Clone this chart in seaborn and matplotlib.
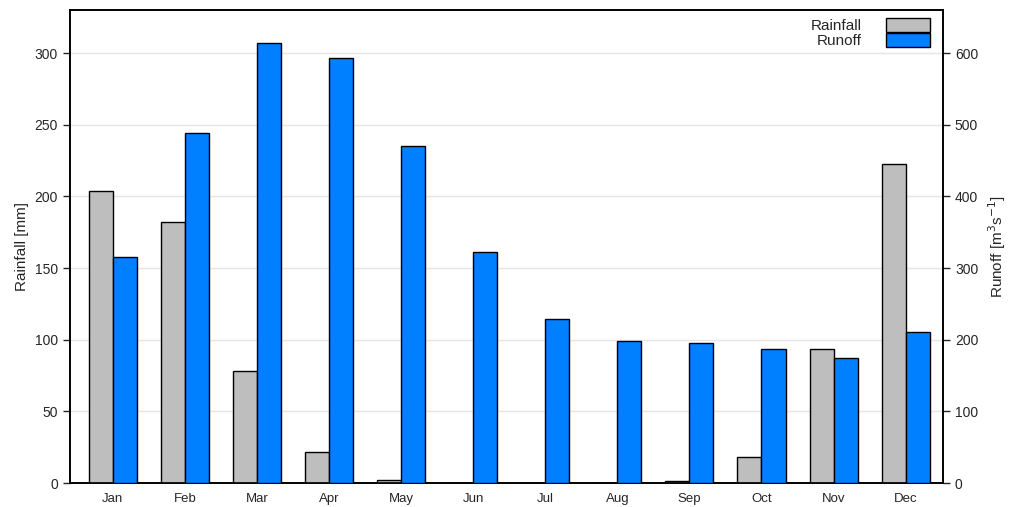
import matplotlib
matplotlib.use("Agg")
import matplotlib.pyplot as plt
from matplotlib.patches import Patch
import pandas as pd
import seaborn as sns

# Monthly values
months = ["Jan", "Feb", "Mar", "Apr", "May", "Jun",
          "Jul", "Aug", "Sep", "Oct", "Nov", "Dec"]
rainfall = [203.5, 182, 78, 21.5, 2.5, 0, 0, 0, 1.5, 18, 93.5, 223]
runoff = [316, 489, 614, 593, 470, 322, 229, 198, 195, 187, 174, 211]

rain_df = pd.DataFrame({"month": months, "value": rainfall, "series": "Rainfall"})
run_df = pd.DataFrame({"month": months, "value": runoff, "series": "Runoff"})

sns.set_style("white")
plt.rcParams["font.family"] = ["Liberation Sans", "DejaVu Sans"]

colors = {"Rainfall": "#bebebe", "Runoff": "#0080ff"}
order = ["Rainfall", "Runoff"]

fig, ax = plt.subplots(figsize=(10.24, 5.07), dpi=100)
ax2 = ax.twinx()

sns.barplot(data=rain_df, x="month", y="value", hue="series", hue_order=order,
            palette=colors, order=months, width=0.667, dodge=True, saturation=1,
            edgecolor="black", linewidth=1, ax=ax, legend=False, zorder=3)
sns.barplot(data=run_df, x="month", y="value", hue="series", hue_order=order,
            palette=colors, order=months, width=0.667, dodge=True, saturation=1,
            edgecolor="black", linewidth=1, ax=ax2, legend=False, zorder=3)

ax.set_ylim(0, 330)
ax2.set_ylim(0, 660)
ax.set_xlim(-0.6, 11.52)
ax.set_yticks(range(0, 301, 50))
ax2.set_yticks(range(0, 601, 100))

ax.yaxis.grid(True, color="#e5e5e5", linewidth=1)
ax.set_axisbelow(True)

ax.set_xlabel("")
ax2.set_xlabel("")
ax.set_ylabel("Rainfall [mm]", fontsize=11)
ax2.set_ylabel("Runoff [m$^3$s$^{-1}$]", fontsize=11, labelpad=6)

ax.tick_params(axis="x", length=0, labelsize=9.5, pad=7)
ax.tick_params(axis="y", direction="out", length=5, width=1, labelsize=10, left=True)
ax2.tick_params(axis="y", direction="out", length=5, width=1, labelsize=10, right=True)

for a in (ax, ax2):
    for s in a.spines.values():
        s.set_color("black")
        s.set_linewidth(1.2)

handles = [Patch(facecolor=colors[k], edgecolor="black", linewidth=1) for k in order]
ax2.legend(handles, order, loc="upper right", frameon=False, markerfirst=False,
           labelspacing=0, handleheight=1.0, handlelength=2.9, handletextpad=1.6,
           fontsize=11, borderaxespad=0, borderpad=0,
           bbox_to_anchor=(0.985, 0.983))

plt.subplots_adjust(left=0.068, right=0.921, top=0.98, bottom=0.047)
fig.savefig("out.png", dpi=100)
